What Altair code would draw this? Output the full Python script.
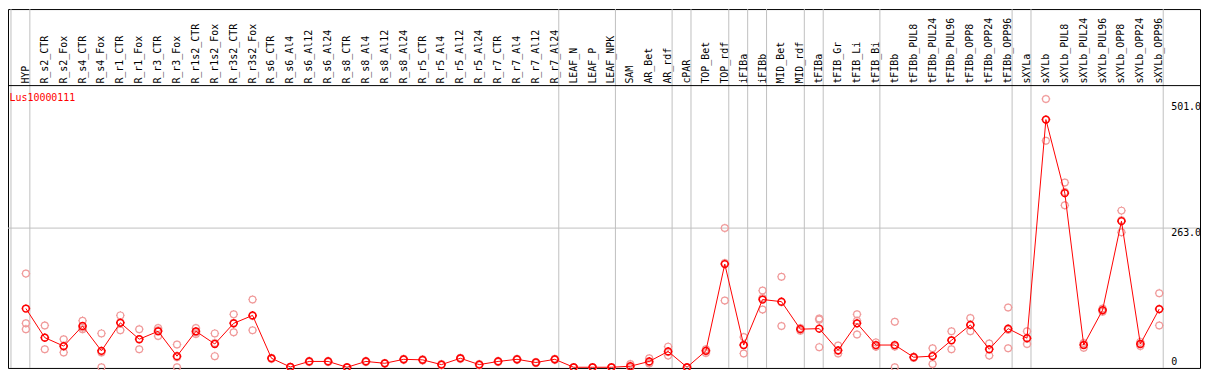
import altair as alt
import pandas as pd

labels = ["HYP", "R_s2_CTR", "R_s2_Fox", "R_s4_CTR", "R_s4_Fox", "R_r1_CTR", "R_r1_Fox",
          "R_r3_CTR", "R_r3_Fox", "R_r1s2_CTR", "R_r1s2_Fox", "R_r3s2_CTR", "R_r3s2_Fox",
          "R_s6_CTR", "R_s6_Al4", "R_s6_Al12", "R_s6_Al24", "R_s8_CTR", "R_s8_Al4", "R_s8_Al12",
          "R_s8_Al24", "R_r5_CTR", "R_r5_Al4", "R_r5_Al12", "R_r5_Al24", "R_r7_CTR", "R_r7_Al4",
          "R_r7_Al12", "R_r7_Al24", "LEAF_N", "LEAF_P", "LEAF_NPK", "SAM", "AR_Bet", "AR_rdf",
          "cPAR", "TOP_Bet", "TOP_rdf", "iFIBa", "iFIBb", "MID_Bet", "MID_rdf", "tFIBa",
          "tFIB_Gr", "tFIB_Li", "tFIB_Bi", "tFIBb", "tFIBb_PUL8", "tFIBb_PUL24", "tFIBb_PUL96",
          "tFIBb_OPP8", "tFIBb_OPP24", "tFIBb_OPP96", "sXYLa", "sXYLb", "sXYLb_PUL8",
          "sXYLb_PUL24", "sXYLb_PUL96", "sXYLb_OPP8", "sXYLb_OPP24", "sXYLb_OPP96"]

means = [111, 56, 40, 78, 31, 84, 53, 68, 21, 68, 44, 83, 98,
         17, 0.5, 11, 11, 0, 11, 7.5, 15, 14, 5, 17, 5, 11, 15, 9, 15,
         0, 0, 0, 2, 11, 30, 0, 31, 195, 42, 128, 124, 72, 73,
         32, 83, 42, 42, 19, 21, 51, 80, 34, 73, 55, 468, 329,
         42, 108, 276, 44, 110]

rep1 = [177, 79, 53, 88, 64, 98, 72, 74, 43, 74, 64, 100, 128,
        18, 1, 12, 12, 0, 12, 8, 16, 15, 6, 18, 6, 12, 16, 10, 16,
        0, 0, 0, 6, 17, 39, 0, 34, 263, 57, 145, 171, 74, 92,
        41, 100, 47, 86, 20, 36, 68, 93, 45, 113, 68, 507, 349,
        46, 111, 296, 48, 140]

rep2 = [83, 34, 28, 72, 0, 70, 34, 59, 0, 63, 21, 66, 70,
        16, 0, 10, 10, 0, 10, 7, 14, 13, 4, 16, 4, 10, 14, 8, 14,
        0, 0, 0, 0, 9, 22, 0, 27, 126, 26, 109, 78, 69, 90,
        26, 62, 39, 0, 18, 6, 34, 68, 22, 36, 44, 428, 306,
        37, 105, 255, 40, 79]

rep3 = [72, 56, 39, 75, 28, 85, 53, 70, 19, 66, 46, 84, 97,
        17, 0.5, 11, 11, 0, 11, 7.5, 15, 14, 5, 17, 5, 11, 15, 9, 15,
        0, 0, 0, 0, 7, 29, 0, 31, 197, 42, 131, 123, 73, 38,
        31, 88, 39, 39, 18, 22, 51, 80, 34, 71, 54, 468, 331,
        43, 107, 278, 44, 110]

separators_after = [-1, 0, 28, 31, 34, 35, 37, 38, 39, 41, 42, 45, 52, 53, 60]
gene = "Lus10000111"
grid_values = [263]
scale_values = [501, 263, 0]
scale_texts = ["501.0", "263.0", "0"]

W, H = 1199, 361
FONT = "DejaVu Sans Mono"

xs = alt.Scale(domain=[-18 / 19, -18 / 19 + W / 19], nice=False, zero=False)
ys = alt.Scale(domain=[-1.3, -1.3 + H / 0.5323], nice=False, zero=False)

n = len(labels)
df = pd.DataFrame({"idx": list(range(n)), "label": labels, "mean": means})
reps = pd.DataFrame({
    "idx": list(range(n)) * 3,
    "val": rep1 + rep2 + rep3,
})
seps = pd.DataFrame({"pos": [s + 4 / 19 for s in separators_after]})
grid = pd.DataFrame({"v": grid_values})
sc = pd.DataFrame({"v": scale_values, "t": scale_texts})

X = alt.X("idx:Q", scale=xs, axis=None)
# circle (cubic bezier) with four small ticks
r, k = 0.78, 0.43
SYM = (f"M{r},0C{r},{k} {k},{r} 0,{r}C-{k},{r} -{r},{k} -{r},0"
       f"C-{r},-{k} -{k},-{r} 0,-{r}C{k},-{r} {r},-{k} {r},0Z"
       f"M{r},0L1,0M-{r},0L-1,0M0,{r}L0,1M0,-{r}L0,-1")

sep_layer = alt.Chart(seps).mark_rule(color="#c0c0c0", strokeWidth=1).encode(
    x=alt.X("pos:Q", scale=xs, axis=None), y=alt.value(0), y2=alt.value(H))

grid_layer = alt.Chart(grid).mark_rule(color="#c0c0c0", strokeWidth=1).encode(
    y=alt.Y("v:Q", scale=ys, axis=None), x=alt.value(0), x2=alt.value(W))

head_line = alt.Chart(grid).mark_rule(color="black", strokeWidth=1).encode(
    y=alt.value(77), x=alt.value(0), x2=alt.value(W))

head_text = alt.Chart(df).mark_text(
    angle=270, align="left", baseline="middle", font=FONT, fontSize=10, color="black"
).encode(x=X, y=alt.value(75), text="label:N")

rep_layer = alt.Chart(reps).mark_point(
    shape=SYM, size=76, filled=False, color="#f09a9a", strokeWidth=1.2, opacity=1
).encode(x=X, y=alt.Y("val:Q", scale=ys, axis=None))

line_layer = alt.Chart(df).mark_line(color="#ff0000", strokeWidth=1).encode(
    x=X, y=alt.Y("mean:Q", scale=ys, axis=None))

mean_layer = alt.Chart(df).mark_point(
    shape=SYM, size=76, filled=False, color="#ff0000", strokeWidth=1.5, opacity=1
).encode(x=X, y=alt.Y("mean:Q", scale=ys, axis=None))

gene_text = alt.Chart(grid).mark_text(
    align="left", baseline="middle", font=FONT, fontSize=10, color="#ff0000", text=gene
).encode(x=alt.value(1.5), y=alt.value(89))

sc_top = alt.Chart(sc[sc.v > 0]).mark_text(
    align="left", baseline="top", font=FONT, fontSize=10, color="black"
).encode(x=alt.value(1170), y=alt.Y("v:Q", scale=ys, axis=None), text="t:N")

sc_bot = alt.Chart(sc[sc.v == 0]).mark_text(
    align="left", baseline="bottom", font=FONT, fontSize=10, color="black"
).encode(x=alt.value(1170), y=alt.Y("v:Q", scale=ys, axis=None), text="t:N")

chart = alt.layer(
    sep_layer, grid_layer, head_line, head_text, rep_layer, line_layer, mean_layer,
    gene_text, sc_top, sc_bot
).properties(
    width=W, height=H,
    autosize=alt.AutoSizeParams(type="none"),
    padding={"left": 0, "top": 0, "right": 1, "bottom": 1},
).configure_view(stroke="black", strokeWidth=1)

chart.save("out.html", embed_options={"renderer": "svg", "actions": False})
